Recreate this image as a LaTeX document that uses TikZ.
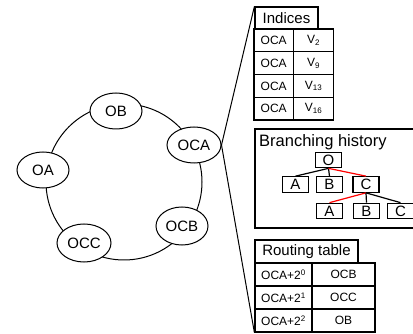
\documentclass[tikz,border=0pt]{standalone}
\usepackage{fontspec}
\setmainfont{Liberation Sans}
\usetikzlibrary{shapes.geometric}
\tikzset{
	peer/.style={
		ellipse,
		draw,
		line width=1pt,
		fill=white,
		minimum width=52pt,
		minimum height=36pt,
		inner sep=0pt,
		font=\fontsize{15}{18}\selectfont
	},
	headcell/.style={
		rectangle,
		draw,
		line width=1.2pt,
		inner sep=0pt,
		minimum height=22pt,
		font=\fontsize{15}{18}\selectfont
	},
	cell/.style={
		rectangle,
		draw,
		line width=1.2pt,
		inner sep=0pt,
		minimum height=22.75pt,
		font=\fontsize{12}{14}\selectfont
	},
	treebox/.style={
		rectangle,
		draw,
		line width=1.2pt,
		inner sep=0pt,
		minimum width=26pt,
		minimum height=15.5pt,
		font=\fontsize{15}{18}\selectfont
	},
	branch/.style={
		draw,
		line width=1.2pt
	},
	hot/.style={
		draw=red,
		line width=1.2pt
	},
}

\begin{document}
\begin{tikzpicture}[x=1pt,y=-1pt]
	\useasboundingbox (0,0) rectangle (413,334);
	% ring of peers
	\draw[line width=1pt] (124,182) circle (78pt);
	\node[peer] (ob)  at (116,111) {OB};
	\node[peer] (oa)  at (43,170)  {OA};
	\node[peer,minimum width=54pt] (oca) at (194,145) {OCA};
	\node[peer,minimum height=38pt] (ocb) at (182,226) {OCB};
	\node[peer,minimum width=54pt,minimum height=38pt] (occ) at (84,243) {OCC};

	% indices
	\node[headcell,minimum width=63pt] (idxhead) at (286.5,18) {Indices};
	\node[cell,minimum width=39.5pt] (idx1a) at (273.75,40.4)  {OCA};
	\node[cell,minimum width=40pt]   (idx1b) at (313.5,40.4)   {V\textsubscript{2}};
	\node[cell,minimum width=39.5pt] (idx2a) at (273.75,63.1)  {OCA};
	\node[cell,minimum width=40pt]   (idx2b) at (313.5,63.1)   {V\textsubscript{9}};
	\node[cell,minimum width=39.5pt] (idx3a) at (273.75,85.9)  {OCA};
	\node[cell,minimum width=40pt]   (idx3b) at (313.5,85.9)   {V\textsubscript{13}};
	\node[cell,minimum width=39.5pt] (idx4a) at (273.75,108.6) {OCA};
	\node[cell,minimum width=40pt]   (idx4b) at (313.5,108.6)  {V\textsubscript{16}};

	% branching history
	\node[rectangle,draw,line width=1.2pt,minimum width=165pt,minimum height=99pt] (bhbox) at (337.5,178.5) {};
	\node[anchor=west,inner sep=0pt,font=\fontsize{16.5}{19}\selectfont] (bhtitle) at (259,142) {Branching history};
	\node[treebox] (o)  at (328.5,160)   {O};
	\node[treebox] (a1) at (295.5,184.5) {A};
	\node[treebox] (b1) at (329.5,184.5) {B};
	\node[treebox] (c1) at (366,184.5)   {C};
	\node[treebox] (a2) at (329.5,211)   {A};
	\node[treebox] (b2) at (366.5,211)   {B};
	\node[treebox] (c2) at (400.5,211)   {C};
	\draw[branch] (o.south) -- (a1.north);
	\draw[branch] (o.south) -- (b1.north);
	\draw[hot] (o.south) -- (c1.north);
	\draw[hot] (c1.south) -- (a2.north);
	\draw[branch] (c1.south) -- (b2.north);
	\draw[branch] (c1.south) -- (c2.north);

	% routing table
	\node[headcell,minimum width=103pt,minimum height=23pt] (rthead) at (306.5,251.5) {Routing table};
	\node[cell,minimum width=57pt,minimum height=23pt] (rt1a) at (283.5,274.5) {OCA+2\textsuperscript{0}};
	\node[cell,minimum width=63pt,minimum height=23pt] (rt1b) at (343.5,274.5) {OCB};
	\node[cell,minimum width=57pt,minimum height=23pt] (rt2a) at (283.5,297.5) {OCA+2\textsuperscript{1}};
	\node[cell,minimum width=63pt,minimum height=23pt] (rt2b) at (343.5,297.5) {OCC};
	\node[cell,minimum width=57pt,minimum height=23pt] (rt3a) at (283.5,320.5) {OCA+2\textsuperscript{2}};
	\node[cell,minimum width=63pt,minimum height=23pt] (rt3b) at (343.5,320.5) {OB};

	% zoom lines from OCA
	\draw[line width=1pt] (oca.east) -- (idxhead.north west);
	\draw[line width=1pt] (oca.east) -- (rt3a.south west);
\end{tikzpicture}
\end{document}
